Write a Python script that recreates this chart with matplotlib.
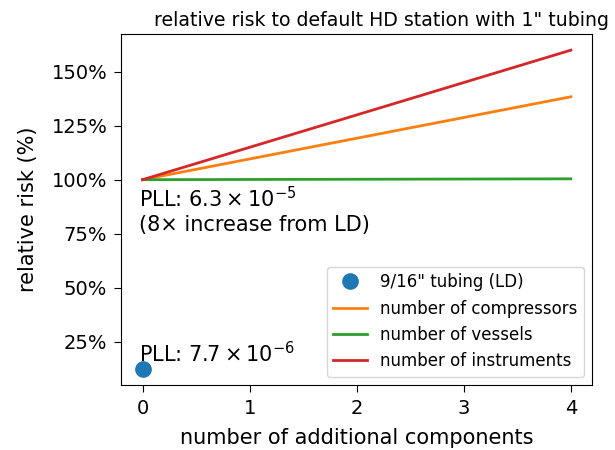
import numpy as np
import matplotlib.pyplot as plt
from matplotlib.ticker import PercentFormatter

# relative risk (%) vs number of extra components, normalised to default HD station
n_components = [0, 1, 2, 3, 4]
compressors = [100.0, 109.6, 119.2, 128.8, 138.4]
vessels = [100.0, 100.1, 100.2, 100.3, 100.4]
instruments = [100.0, 115.0, 130.0, 145.0, 160.0]

# LD reference (9/16" tubing)
ld_x = [0]
ld_risk = [12.2]

pll_hd = r"PLL: $6.3 \times 10^{-5}$"
pll_ld = r"PLL: $7.7 \times 10^{-6}$"

fig, ax = plt.subplots(figsize=(6.15, 4.5), dpi=100)
fig.subplots_adjust(left=0.197, right=0.963, bottom=0.144, top=0.924)

ax.plot(ld_x, ld_risk, 'o', color='C0', markersize=11, label='9/16" tubing (LD)')
ax.plot(n_components, compressors, color='C1', lw=2, label='number of compressors')
ax.plot(n_components, vessels, color='C2', lw=2, label='number of vessels')
ax.plot(n_components, instruments, color='C3', lw=2, label='number of instruments')

ax.text(-0.03, 97, pll_hd + "\n(8× increase from LD)", va='top', ha='left', fontsize=15)
ax.text(-0.03, 13.7, pll_ld, va='bottom', ha='left', fontsize=15)

ax.yaxis.set_major_formatter(PercentFormatter(decimals=0))
ax.set_yticks([25, 50, 75, 100, 125, 150])
ax.set_xticks([0, 1, 2, 3, 4])
ax.tick_params(labelsize=14, length=5, pad=5)
ax.set_xlabel("number of additional components", fontsize=15, labelpad=7)
ax.set_ylabel("relative risk (%)", fontsize=15, labelpad=10)
ax.set_title('relative risk to default HD station with 1" tubing', fontsize=13.6, x=0.552)
ax.legend(loc='lower right', fontsize=12)

fig.savefig("out.png")
